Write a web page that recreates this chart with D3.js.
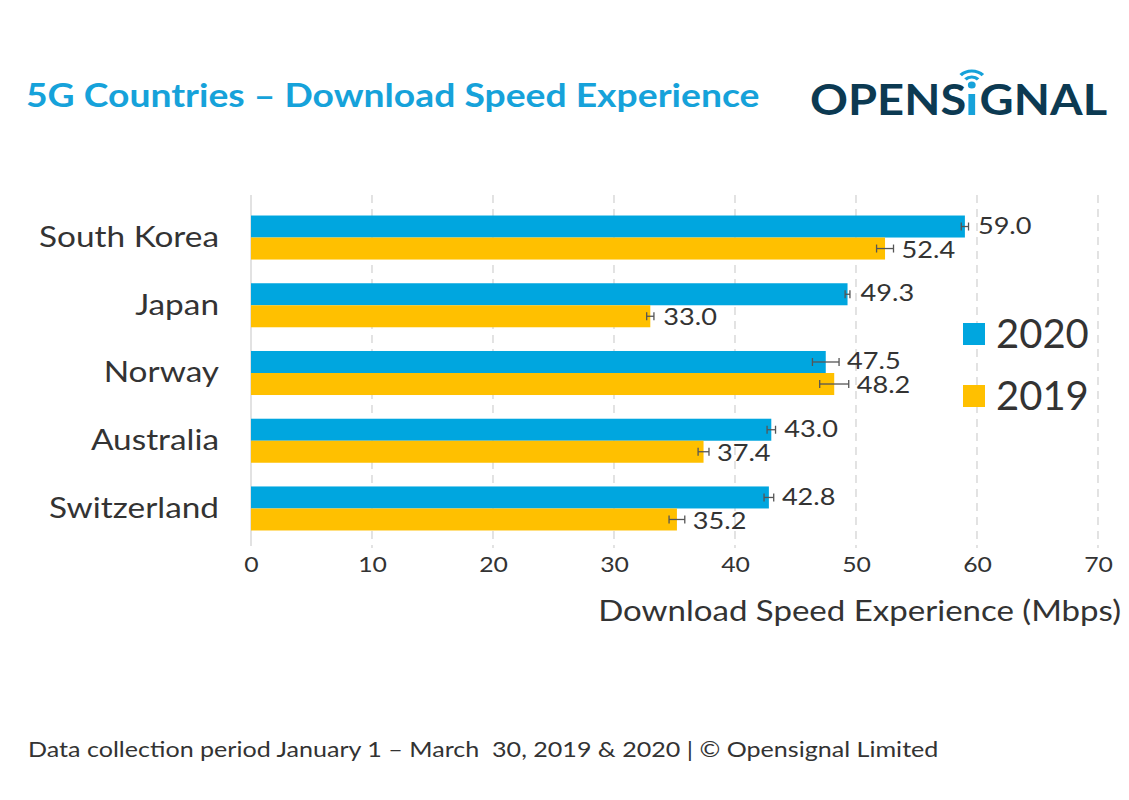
<!DOCTYPE html>
<html>
<head>
<meta charset="utf-8">
<script src="https://cdn.jsdelivr.net/npm/d3@7"></script>
<style>
  body { margin: 0; background: #fff; }
  svg { display: block; font-family: Lato, "Open Sans", sans-serif; }
</style>
</head>
<body>
<svg id="chart" width="1129" height="800"></svg>
<script>
// Chart data
const countries = ["South Korea", "Japan", "Norway", "Australia", "Switzerland"];
const years = ["2020", "2019"];
const speed2020 = [59.0, 49.3, 47.5, 43.0, 42.8];
const speed2019 = [52.4, 33.0, 48.2, 37.4, 35.2];
const err2020 = [0.3, 0.2, 1.1, 0.35, 0.4];
const err2019 = [0.7, 0.3, 1.2, 0.45, 0.65];
const xTicks = [0, 10, 20, 30, 40, 50, 60, 70];

const colors = { "2020": "#00a6df", "2019": "#ffc000" };
const textColor = "#333";
const sx = 1.18; // the source image text is stretched horizontally

const svg = d3.select("#chart");

// place a text at (x,y) with a horizontal stretch
function stretched(g, x, y, str, k = sx) {
    return g.append("text")
        .attr("transform", `translate(${x},${y}) scale(${k},1)`)
        .text(str);
}

// Title
stretched(svg, 26, 107, "5G Countries \u2013 Download Speed Experience", 1.165)
    .attr("font-size", 32).attr("font-weight", 700)
    .attr("fill", "#16a2da");

// Logo: OPENS + i + GNAL with a little wifi signal on the i
const logo = svg.append("g").attr("transform", "translate(810,0) scale(1.12,1)");
const logoY = 115, logoSize = 42, navy = "#0c3a52";
const t1 = logo.append("text").attr("x", 0).attr("y", logoY)
    .attr("font-size", logoSize).attr("font-weight", 700).attr("fill", navy).text("OPENS");
let lx = t1.node().getComputedTextLength() + 2;
logo.append("rect").attr("x", lx).attr("y", logoY - 21).attr("width", 6).attr("height", 21).attr("fill", "#16a2da");
const dotX = lx + 3, dotY = logoY - 30;
logo.append("circle").attr("cx", dotX).attr("cy", dotY).attr("r", 3.5).attr("fill", "#16a2da");
[8, 14].forEach(r => {
    logo.append("path")
        .attr("transform", `translate(${dotX},${dotY})`)
        .attr("d", d3.arc()({ innerRadius: r - 1.6, outerRadius: r + 1.6, startAngle: -Math.PI / 4, endAngle: Math.PI / 4 }))
        .attr("fill", "#16a2da");
});
lx += 10;
logo.append("text").attr("x", lx).attr("y", logoY)
    .attr("font-size", logoSize).attr("font-weight", 700).attr("fill", navy).text("GNAL");

// Scales
const x = d3.scaleLinear().domain([0, 70]).range([251, 1098]);
const y = d3.scaleBand().domain(countries).range([204, 542]).paddingInner(0.35).paddingOuter(0.17);
const ySub = d3.scaleBand().domain(years).range([0, y.bandwidth()]);

// Gridlines (dashed)
svg.append("g").selectAll("line")
    .data(xTicks.filter(d => d > 0))
    .join("line")
    .attr("x1", d => x(d)).attr("x2", d => x(d))
    .attr("y1", 195).attr("y2", 548)
    .attr("stroke", "#d0d0d0").attr("stroke-width", 1.2)
    .attr("stroke-dasharray", "8,6");

// Left axis line
svg.append("line")
    .attr("x1", x(0)).attr("x2", x(0)).attr("y1", 195).attr("y2", 546)
    .attr("stroke", "#d8d8d8").attr("stroke-width", 1.5);

// X axis tick labels
const xAxis = svg.append("g")
    .attr("transform", "translate(0,548)")
    .call(d3.axisBottom(x).tickValues(xTicks).tickSize(0).tickPadding(9));
xAxis.select(".domain").remove();
xAxis.selectAll("text")
    .attr("transform", `scale(${sx},1)`)
    .attr("font-size", 21).attr("fill", textColor).attr("font-family", "Lato, sans-serif");

stretched(svg, 1121, 621, "Download Speed Experience (Mbps)")
    .attr("text-anchor", "end")
    .attr("font-size", 28).attr("fill", textColor);

// Y axis labels
const yAxis = svg.append("g")
    .attr("transform", "translate(219,0)")
    .call(d3.axisLeft(y).tickSize(0).tickPadding(0));
yAxis.select(".domain").remove();
yAxis.selectAll("text")
    .attr("x", 0)
    .attr("transform", "scale(1.15,1)")
    .attr("font-size", 29).attr("fill", textColor).attr("font-family", "Lato, sans-serif");

// Bars
const rows = [];
countries.forEach((c, i) => {
    rows.push({ country: c, year: "2020", value: speed2020[i], err: err2020[i] });
    rows.push({ country: c, year: "2019", value: speed2019[i], err: err2019[i] });
});

const barY = d => y(d.country) + ySub(d.year);
const bh = ySub.bandwidth();

svg.append("g").selectAll("rect")
    .data(rows)
    .join("rect")
    .attr("x", x(0))
    .attr("y", barY)
    .attr("width", d => x(d.value) - x(0))
    .attr("height", bh)
    .attr("fill", d => colors[d.year]);

// Error bars
const eb = svg.append("g").attr("stroke", "#555").attr("stroke-width", 1.3);
rows.forEach(d => {
    const cy = barY(d) + bh / 2;
    const lo = x(d.value - d.err), hi = x(d.value + d.err);
    eb.append("line").attr("x1", lo).attr("x2", hi).attr("y1", cy).attr("y2", cy);
    eb.append("line").attr("x1", lo).attr("x2", lo).attr("y1", cy - 4).attr("y2", cy + 4);
    eb.append("line").attr("x1", hi).attr("x2", hi).attr("y1", cy - 4).attr("y2", cy + 4);
});

// Value labels (nudged apart a little so the pairs don't touch)
svg.append("g").selectAll("text")
    .data(rows)
    .join("text")
    .attr("transform", d => {
        const lx = Math.max(x(d.value + d.err) + 8, x(d.value) + 13);
        const ly = barY(d) + bh / 2 + (d.year === "2020" ? -1 : 1);
        return `translate(${lx},${ly}) scale(${sx},1)`;
    })
    .attr("dy", "0.35em")
    .attr("font-size", 23).attr("fill", textColor)
    .text(d => d3.format(".1f")(d.value));

// Legend
const legend = svg.append("g").selectAll("g")
    .data(years)
    .join("g")
    .attr("transform", (d, i) => `translate(963,${323 + i * 62})`);
legend.append("rect").attr("width", 22).attr("height", 22).attr("fill", d => colors[d]);
legend.append("text")
    .attr("x", 33).attr("y", 11).attr("dy", "0.36em")
    .attr("font-size", 40).attr("fill", textColor)
    .text(d => d);

// Footer
stretched(svg, 28, 757, "Data collection period January 1 \u2013 March  30, 2019 & 2020 | \u00a9 Opensignal Limited", 1.195)
    .attr("font-size", 21).attr("fill", textColor)
    .style("white-space", "pre");
</script>
</body>
</html>
